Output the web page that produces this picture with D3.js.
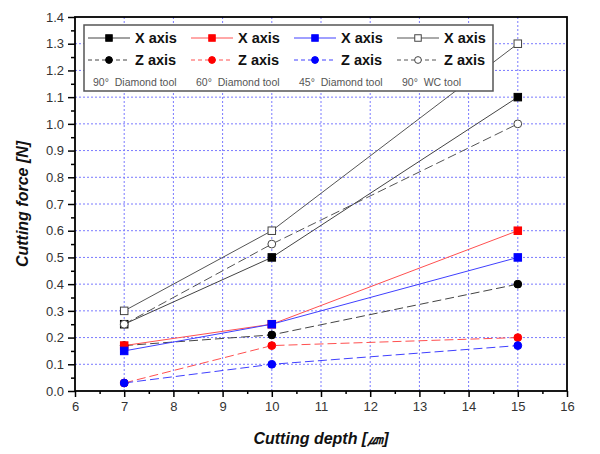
<!DOCTYPE html>
<html>
<head>
<meta charset="utf-8">
<script src="https://cdn.jsdelivr.net/npm/d3@7"></script>
<style>
body { margin: 0; background: #fff; }
svg { font-family: "Liberation Sans", Arial, sans-serif; }
</style>
</head>
<body>
<div id="chart"></div>
<script>
// cutting depth (um)
var depths = [7, 10, 15];

// tools, in legend order
var tools = ["90\u00b0  Diamond tool", "60\u00b0  Diamond tool", "45\u00b0  Diamond tool", "90\u00b0  WC tool"];
var toolColors = ["#000000", "#ff0000", "#0000ff", "#555555"];
var lineColors = ["#444444", "#ff5050", "#4040ff", "#555555"];
var openMarker = [false, false, false, true];

// cutting force [N]
var xForce = [
	[0.25, 0.50, 1.10],
	[0.17, 0.25, 0.60],
	[0.15, 0.25, 0.50],
	[0.30, 0.60, 1.30]
];
var zForce = [
	[0.17, 0.21, 0.40],
	[0.03, 0.17, 0.20],
	[0.03, 0.10, 0.17],
	[0.25, 0.55, 1.00]
];

var xTicks = [6, 7, 8, 9, 10, 11, 12, 13, 14, 15, 16];
var yTicks = [0, 0.1, 0.2, 0.3, 0.4, 0.5, 0.6, 0.7, 0.8, 0.9, 1.0, 1.1, 1.2, 1.3, 1.4];

var W = 600, H = 454;
var plotL = 75, plotR = 567, plotT = 17, plotB = 391;

var svg = d3.select("#chart")
	.append("svg")
	.attr("width", W)
	.attr("height", H);

var x = d3.scaleLinear().domain([6, 16]).range([plotL, plotR]);
var y = d3.scaleLinear().domain([0, 1.4]).range([plotB, plotT]);

// grid
var grid = svg.append("g").attr("stroke", "#7a7aff").attr("stroke-width", 1).attr("stroke-dasharray", "2,2");
grid.selectAll("line.gx")
	.data(xTicks.slice(1, -1))
	.enter().append("line")
	.attr("class", "gx")
	.attr("x1", d => x(d)).attr("x2", d => x(d))
	.attr("y1", plotT).attr("y2", plotB);
grid.selectAll("line.gy")
	.data(yTicks.slice(1, -1))
	.enter().append("line")
	.attr("class", "gy")
	.attr("x1", plotL).attr("x2", plotR)
	.attr("y1", d => y(d)).attr("y2", d => y(d));

// axes
var xAxis = svg.append("g")
	.attr("transform", "translate(0," + plotB + ")")
	.call(d3.axisBottom(x).tickValues(xTicks).tickSize(6).tickPadding(5).tickFormat(d3.format("d")));
var xMinor = svg.append("g")
	.attr("transform", "translate(0," + plotB + ")")
	.call(d3.axisBottom(x).tickValues(d3.range(6.5, 16, 1)).tickSize(3).tickFormat(""));
var yAxis = svg.append("g")
	.attr("transform", "translate(" + plotL + ",0)")
	.call(d3.axisLeft(y).tickValues(yTicks).tickSize(7).tickPadding(4).tickFormat(d3.format(".1f")));
var yMinor = svg.append("g")
	.attr("transform", "translate(" + plotL + ",0)")
	.call(d3.axisLeft(y).tickValues(d3.range(0.05, 1.4, 0.1)).tickSize(4).tickFormat(""));

[xAxis, xMinor, yAxis, yMinor].forEach(function (g) {
	g.select(".domain").remove();
	g.selectAll(".tick line").attr("stroke", "#000").attr("stroke-width", 1.5);
	g.selectAll(".tick text")
		.attr("fill", "#333")
		.style("font-size", "13px")
		.style("font-family", "'Liberation Sans', Arial, sans-serif");
});

svg.append("rect")
	.attr("x", plotL).attr("y", plotT)
	.attr("width", plotR - plotL).attr("height", plotB - plotT)
	.attr("fill", "none")
	.attr("stroke", "#000")
	.attr("stroke-width", 1.8);

// series
var line = d3.line()
	.x(function (d, i) { return x(depths[i]); })
	.y(function (d) { return y(d); });

var series = [];
tools.forEach(function (t, k) {
	series.push({tool: k, kind: "X", values: xForce[k]});
	series.push({tool: k, kind: "Z", values: zForce[k]});
});

svg.append("g").selectAll("path")
	.data(series)
	.enter().append("path")
	.attr("d", d => line(d.values))
	.attr("fill", "none")
	.attr("stroke", d => lineColors[d.tool])
	.attr("stroke-width", 1)
	.attr("stroke-dasharray", d => d.kind === "Z" ? "9,4" : null);

function drawMarker(g, kind, k, cx, cy, s) {
	var fill = openMarker[k] ? "#fff" : toolColors[k];
	var stroke = openMarker[k] ? "#444" : toolColors[k];
	if (kind === "X") {
		g.append("rect")
			.attr("x", cx - s / 2).attr("y", cy - s / 2)
			.attr("width", s).attr("height", s)
			.attr("fill", fill).attr("stroke", stroke).attr("stroke-width", 1);
	} else {
		g.append("circle")
			.attr("cx", cx).attr("cy", cy).attr("r", s * 0.52)
			.attr("fill", fill).attr("stroke", stroke).attr("stroke-width", 1);
	}
}

var marks = svg.append("g");
series.forEach(function (s) {
	s.values.forEach(function (v, i) {
		drawMarker(marks, s.kind, s.tool, x(depths[i]), y(v), 7.5);
	});
});

// legend
var legend = svg.append("g");
legend.append("rect")
	.attr("x", 84).attr("y", 25)
	.attr("width", 409).attr("height", 66)
	.attr("fill", "#fff")
	.attr("stroke", "#555")
	.attr("stroke-width", 1.5);

tools.forEach(function (t, k) {
	var x0 = 88 + k * 103;
	["X", "Z"].forEach(function (kind, r) {
		var ly = 38 + r * 22;
		legend.append("line")
			.attr("x1", x0).attr("x2", x0 + 42)
			.attr("y1", ly).attr("y2", ly)
			.attr("stroke", lineColors[k])
			.attr("stroke-width", 1)
			.attr("stroke-dasharray", kind === "Z" ? "4,3" : null);
		drawMarker(legend, kind, k, x0 + 21, ly, 6.5);
		legend.append("text")
			.attr("x", x0 + 47).attr("y", ly + 5)
			.attr("font-size", "14.5px")
			.attr("font-weight", "bold")
			.attr("fill", "#111")
			.text(kind + " axis");
	});
	legend.append("text")
		.attr("x", x0 + 5).attr("y", 86)
		.attr("font-size", "10.5px")
		.attr("fill", "#555")
		.attr("xml:space", "preserve")
		.style("white-space", "pre")
		.text(t);
});

// axis titles
svg.append("text")
	.attr("transform", "translate(28," + ((plotT + plotB) / 2) + ") rotate(-90)")
	.attr("text-anchor", "middle")
	.attr("font-size", "16px")
	.attr("font-weight", "bold")
	.attr("font-style", "italic")
	.attr("fill", "#111")
	.text("Cutting force [N]");

svg.append("text")
	.attr("x", (plotL + plotR) / 2)
	.attr("y", 444)
	.attr("text-anchor", "middle")
	.attr("font-size", "16px")
	.attr("font-weight", "bold")
	.attr("font-style", "italic")
	.attr("fill", "#111")
	.text("Cutting depth [\u339b]");
</script>
</body>
</html>
